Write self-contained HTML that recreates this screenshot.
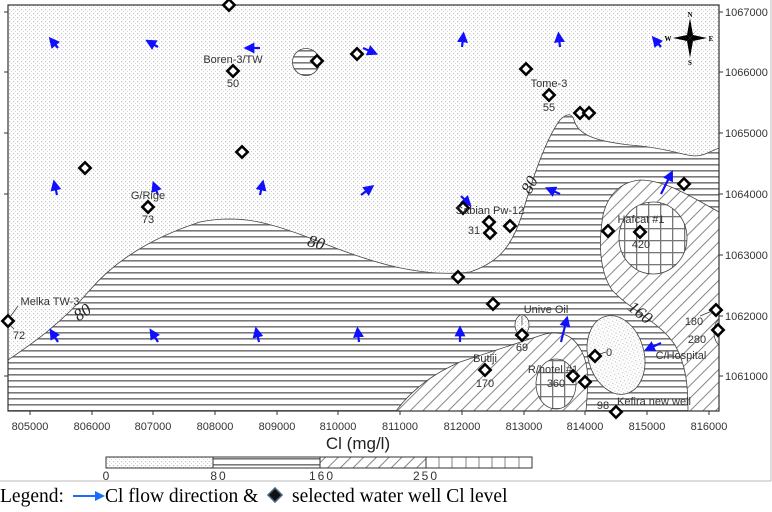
<!DOCTYPE html>
<html><head><meta charset="utf-8"><style>
html,body{margin:0;padding:0;background:#fff}
svg{display:block}
.s{font-family:"Liberation Sans",sans-serif}
.r{font-family:"Liberation Serif",serif}
</style></head><body>
<svg width="772" height="512" viewBox="0 0 772 512" xmlns="http://www.w3.org/2000/svg">
<defs>
<pattern id="dots" width="4" height="4" patternUnits="userSpaceOnUse"><rect width="4" height="4" fill="#fff"/><rect x="1" y="1" width="1.2" height="1.2" fill="#c4c4c4"/><rect x="3" y="3" width="1.2" height="1.2" fill="#d4d4d4"/></pattern>
<pattern id="hor" width="6" height="6" patternUnits="userSpaceOnUse"><rect width="6" height="6" fill="#fff"/><rect y="2" width="6" height="1.6" fill="#7a7a7a"/></pattern>
<pattern id="diag" width="9" height="9" patternUnits="userSpaceOnUse" patternTransform="rotate(-45)"><rect width="9" height="9" fill="#fff"/><rect y="4" width="9" height="0.9" fill="#777"/></pattern>
<pattern id="grid" width="12" height="12" patternUnits="userSpaceOnUse"><rect width="12" height="12" fill="#fff"/><rect width="12" height="1.3" fill="#777"/><rect width="1.3" height="12" fill="#777"/></pattern>
<clipPath id="mapclip"><rect x="8" y="5" width="711" height="406"/></clipPath>
<g id="dm"><rect x="-4" y="-4" width="8" height="8" fill="#fff" stroke="#000" stroke-width="2.6" transform="rotate(45)"/></g>
<marker id="ah" markerWidth="5" markerHeight="5" refX="2" refY="2.5" orient="auto" markerUnits="strokeWidth"><path d="M0,0 L5,2.5 L0,5z" fill="#1010ff"/></marker>
</defs>

<line x1="771" y1="0" x2="771" y2="481" stroke="#bbb"/>
<line x1="0" y1="481" x2="771" y2="481" stroke="#bbb"/>

<g clip-path="url(#mapclip)">
<rect x="8" y="5" width="711" height="406" fill="url(#dots)"/>
<path d="M8,360 C30,345 60,325 90,290 C120,255 160,235 200,222 C240,214 270,222 320,242 C370,262 420,278 470,272 C500,262 512,245 522,215 C532,180 545,140 560,120 C568,112 572,114 574,120 C578,135 595,142 640,146 C680,150 690,160 705,154 L719,148 L719,411 L8,411 Z" fill="url(#hor)" stroke="#444" stroke-width="0.8"/>
<path d="M719,212 L719,411 L688,411 C688,385 686,365 675,345 C660,322 630,310 612,290 C600,272 598,245 603,215 C608,195 620,182 640,180 C665,180 690,196 719,212 Z" fill="url(#diag)" stroke="#444" stroke-width="0.8"/>
<ellipse cx="653" cy="238" rx="34" ry="36" fill="url(#grid)" stroke="#444" stroke-width="0.8"/>
<path d="M396,411 C410,392 430,375 460,362 C490,352 520,342 545,334 C565,330 575,338 582,352 C590,368 588,385 586,411 Z" fill="url(#diag)" stroke="#444" stroke-width="0.8"/>
<ellipse cx="556" cy="384" rx="20" ry="25" fill="url(#grid)" stroke="#444" stroke-width="0.8"/>
<ellipse cx="616" cy="355" rx="28" ry="40" transform="rotate(-15 616 355)" fill="url(#dots)" stroke="#444" stroke-width="0.8"/>
<ellipse cx="522" cy="325" rx="7" ry="10" fill="url(#dots)" stroke="#444" stroke-width="0.8"/>
<circle cx="306" cy="62" r="13.5" fill="url(#hor)" stroke="#444" stroke-width="0.8"/>
<ellipse cx="722" cy="332" rx="8" ry="14" fill="url(#dots)" stroke="#444" stroke-width="0.8"/>
</g>
<rect x="8" y="5" width="711" height="406" fill="none" stroke="#333" stroke-width="1.2"/>

<g stroke="#333" stroke-width="1">
<line x1="30" y1="411" x2="30" y2="415"/><line x1="92" y1="411" x2="92" y2="415"/><line x1="153" y1="411" x2="153" y2="415"/><line x1="215" y1="411" x2="215" y2="415"/><line x1="277" y1="411" x2="277" y2="415"/><line x1="338" y1="411" x2="338" y2="415"/><line x1="400" y1="411" x2="400" y2="415"/><line x1="462" y1="411" x2="462" y2="415"/><line x1="524" y1="411" x2="524" y2="415"/><line x1="585" y1="411" x2="585" y2="415"/><line x1="647" y1="411" x2="647" y2="415"/><line x1="709" y1="411" x2="709" y2="415"/>
<line x1="719" y1="12" x2="723" y2="12"/><line x1="719" y1="72" x2="723" y2="72"/><line x1="719" y1="133" x2="723" y2="133"/><line x1="719" y1="194" x2="723" y2="194"/><line x1="719" y1="255" x2="723" y2="255"/><line x1="719" y1="316" x2="723" y2="316"/><line x1="719" y1="376" x2="723" y2="376"/>
<line x1="4" y1="12" x2="8" y2="12"/><line x1="4" y1="72" x2="8" y2="72"/><line x1="4" y1="133" x2="8" y2="133"/><line x1="4" y1="194" x2="8" y2="194"/><line x1="4" y1="376" x2="8" y2="376"/>
</g>
<g class="s" font-size="11" fill="#333" text-anchor="middle">
<text x="30" y="430">805000</text><text x="92" y="430">806000</text><text x="153" y="430">807000</text><text x="215" y="430">808000</text><text x="277" y="430">809000</text><text x="338" y="430">810000</text><text x="400" y="430">811000</text><text x="462" y="430">812000</text><text x="524" y="430">813000</text><text x="585" y="430">814000</text><text x="647" y="430">815000</text><text x="709" y="430">816000</text>
</g>
<g class="s" font-size="11" fill="#333">
<text x="725" y="16">1067000</text><text x="725" y="76">1066000</text><text x="725" y="137">1065000</text><text x="725" y="198">1064000</text><text x="725" y="259">1063000</text><text x="725" y="320">1062000</text><text x="725" y="380">1061000</text>
</g>
<text class="s" x="358" y="449" font-size="17" fill="#222" text-anchor="middle">Cl (mg/l)</text>

<g class="r" font-size="17" font-style="italic" fill="#222">
<text x="316" y="248" transform="rotate(15 316 243)" text-anchor="middle">80</text>
<text x="82" y="318" transform="rotate(-35 82 312)" text-anchor="middle">80</text>
<text x="530" y="190" transform="rotate(-62 530 185)" text-anchor="middle">80</text>
<text x="640" y="318" transform="rotate(38 640 313)" text-anchor="middle">160</text>
</g>

<g stroke="#1010ff" stroke-width="2.2" marker-end="url(#ah)" fill="none">
<line x1="58" y1="48" x2="53" y2="42"/>
<line x1="158" y1="47" x2="151" y2="43"/>
<line x1="260" y1="48" x2="250" y2="48"/>
<line x1="363" y1="48" x2="372" y2="52"/>
<line x1="462" y1="47" x2="463" y2="38"/>
<line x1="560" y1="47" x2="559" y2="38"/>
<line x1="661" y1="47" x2="656" y2="41"/>
<line x1="57" y1="195" x2="55" y2="186"/>
<line x1="158" y1="195" x2="155" y2="187"/>
<line x1="260" y1="195" x2="262" y2="186"/>
<line x1="361" y1="195" x2="369" y2="189"/>
<line x1="461" y1="196" x2="467" y2="202"/>
<line x1="560" y1="194" x2="551" y2="190"/>
<line x1="661" y1="194" x2="670" y2="176"/>
<line x1="58" y1="342" x2="53" y2="334"/>
<line x1="158" y1="342" x2="153" y2="334"/>
<line x1="259" y1="342" x2="257" y2="333"/>
<line x1="359" y1="342" x2="358" y2="333"/>
<line x1="460" y1="342" x2="460" y2="332"/>
<line x1="561" y1="342" x2="566" y2="322"/>
<line x1="661" y1="343" x2="650" y2="348"/>
</g>

<g>
<use href="#dm" x="229" y="5"/><use href="#dm" x="233" y="71"/><use href="#dm" x="317" y="61"/><use href="#dm" x="357" y="54"/><use href="#dm" x="85" y="168"/><use href="#dm" x="242" y="152"/><use href="#dm" x="148" y="207"/><use href="#dm" x="526" y="69"/><use href="#dm" x="549" y="95"/><use href="#dm" x="580" y="113"/><use href="#dm" x="589" y="113"/><use href="#dm" x="463" y="208"/><use href="#dm" x="489" y="222"/><use href="#dm" x="490" y="233"/><use href="#dm" x="510" y="226"/><use href="#dm" x="608" y="231"/><use href="#dm" x="640" y="232"/><use href="#dm" x="684" y="184"/><use href="#dm" x="458" y="277"/><use href="#dm" x="493" y="304"/><use href="#dm" x="522" y="335"/><use href="#dm" x="485" y="370"/><use href="#dm" x="573" y="376"/><use href="#dm" x="585" y="382"/><use href="#dm" x="595" y="356"/><use href="#dm" x="616" y="412"/><use href="#dm" x="716" y="310"/><use href="#dm" x="718" y="330"/><use href="#dm" x="8" y="321"/>
</g>

<g stroke="#333" stroke-width="0.7" fill="none">
<line x1="10" y1="317" x2="18" y2="306"/><line x1="10" y1="325" x2="14" y2="329"/>
<line x1="522" y1="316" x2="522" y2="325"/>
<line x1="600" y1="354" x2="606" y2="352"/>
<line x1="700" y1="316" x2="712" y2="311"/>
</g>

<g class="s" font-size="11" fill="#333" text-anchor="middle">
<text x="233" y="63">Boren-3/TW</text><text x="233" y="87">50</text>
<text x="148" y="199">G/Rige</text><text x="148" y="223">73</text>
<text x="549" y="87">Tome-3</text><text x="549" y="111">55</text>
<text x="490" y="214">Sabian Pw-12</text><text x="474" y="234">31</text>
<text x="641" y="223">Hafcat #1</text><text x="641" y="248">420</text>
<text x="50" y="305">Melka TW-3</text><text x="19" y="339">72</text>
<text x="546" y="313">Unive Oil</text><text x="522" y="351">69</text>
<text x="485" y="362">Butiji</text><text x="485" y="387">170</text>
<text x="553" y="373">R/hotel #1</text><text x="556" y="387">360</text>
<text x="609" y="356">0</text>
<text x="603" y="409">98</text><text x="654" y="405">Kefira new well</text>
<text x="694" y="325">180</text><text x="697" y="343">280</text>
<text x="681" y="359">C/Hospital</text>
</g>

<g transform="translate(690,38)">
<polygon points="0,-20 3,-3 0,0 -3,-3" fill="#000"/>
<polygon points="0,20 3,3 0,0 -3,3" fill="#000"/>
<polygon points="-17,0 -3,-3 0,0 -3,3" fill="#000"/>
<polygon points="17,0 3,-3 0,0 3,3" fill="#000"/>
<polygon points="-9,-9 0,-2 9,9 2,0" fill="#000"/>
<polygon points="9,-9 0,-2 -9,9 -2,0" fill="#000"/>
<g class="r" font-size="7" font-weight="bold" text-anchor="middle">
<text x="0" y="-21">N</text><text x="0" y="27">S</text><text x="-22" y="3">W</text><text x="21" y="3">E</text>
</g>
</g>

<rect x="106" y="457" width="107" height="11" fill="url(#dots)"/>
<rect x="213" y="457" width="107" height="11" fill="url(#hor)"/>
<rect x="320" y="457" width="106" height="11" fill="url(#diag)"/>
<rect x="426" y="457" width="106" height="11" fill="#fff"/>
<g stroke="#666" stroke-width="0.8"><line x1="439" y1="457" x2="439" y2="468"/><line x1="452" y1="457" x2="452" y2="468"/><line x1="466" y1="457" x2="466" y2="468"/><line x1="479" y1="457" x2="479" y2="468"/><line x1="492" y1="457" x2="492" y2="468"/><line x1="505" y1="457" x2="505" y2="468"/><line x1="519" y1="457" x2="519" y2="468"/></g>
<g stroke="#333" fill="none"><rect x="106" y="457" width="426" height="11"/><line x1="213" y1="457" x2="213" y2="468"/><line x1="320" y1="457" x2="320" y2="468"/><line x1="426" y1="457" x2="426" y2="468"/></g>
<g class="s" font-size="12" fill="#333" text-anchor="middle" letter-spacing="2">
<text x="107" y="480">0</text><text x="219" y="480">80</text><text x="322" y="480">160</text><text x="426" y="480">250</text>
</g>

<text class="r" x="0" y="502" font-size="19.5" fill="#000">Legend:</text>
<line x1="73" y1="496" x2="97" y2="496" stroke="#1a6cff" stroke-width="2"/>
<polygon points="95,491 105,496 95,501" fill="#1a6cff"/>
<text class="r" x="105" y="502" font-size="19.5" fill="#000">Cl flow direction &amp;</text>
<rect x="270" y="490" width="10" height="10" fill="#111" stroke="#4a6a8a" stroke-width="1.5" transform="rotate(45 275 495)"/>
<text class="r" x="292" y="502" font-size="19.5" fill="#000">selected water well Cl level</text>
</svg>
</body></html>
